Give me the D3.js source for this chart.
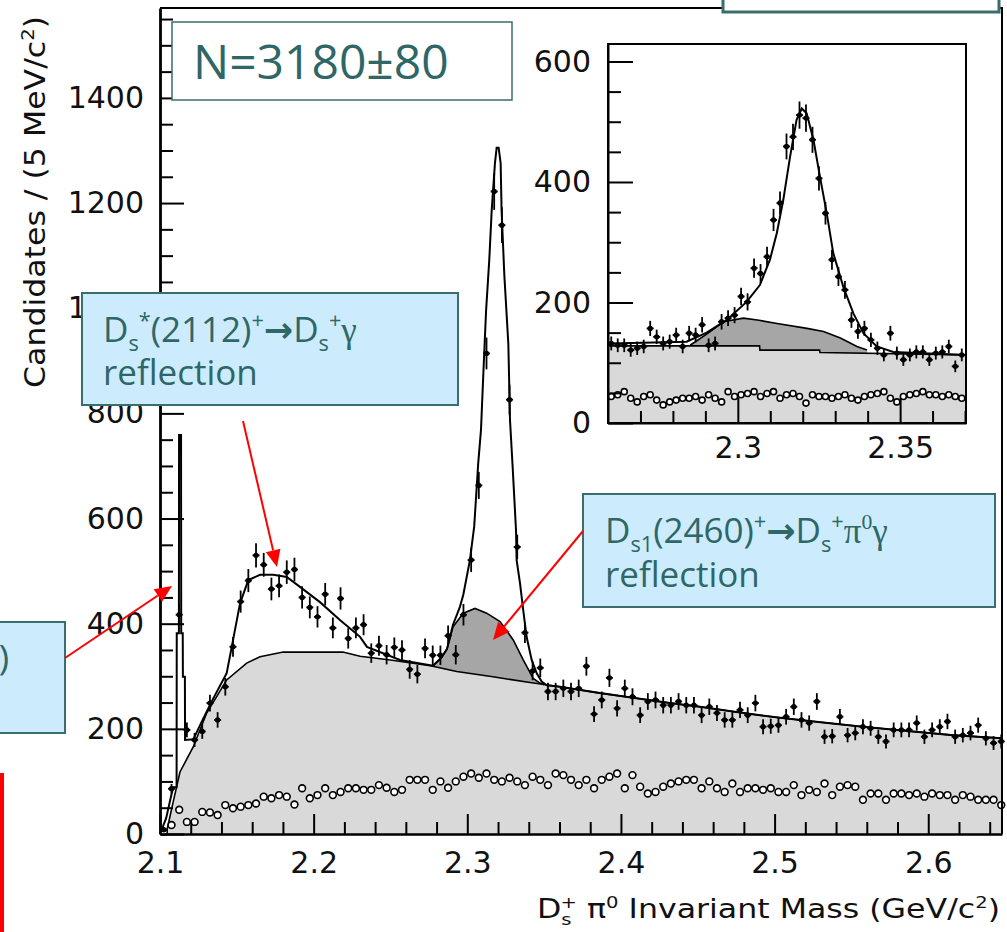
<!DOCTYPE html>
<html>
<head>
<meta charset="utf-8">
<script src="https://cdn.jsdelivr.net/npm/d3@7"></script>
<style>
  body { margin: 0; background: #fff; }
  svg { display: block; }
</style>
</head>
<body>
<div id="plot"></div>
<script>
// ---- main histogram: 5 MeV bins from 2.100 GeV ----
const binStart = 2.1, binWidth = 0.005;
const mainCounts = [8, 86, 417, 198, 179, 195, 249, 217, 280, 356,
  442, 482, 530, 512, 466, 472, 498, 503, 450, 431,
  413, 456, 392, 448, 372, 392, 398, 344, 358, 341,
  355, 350, 313, 304, 353, 340, 340, 377, 341, 417,
  521, 663, 914, 1222, 1158, 826, 546, 383, 310, 316,
  271, 271, 277, 271, 277, 319, 228, 255, 297, 239,
  277, 261, 226, 252, 255, 245, 245, 252, 245, 245,
  226, 242, 230, 217, 217, 236, 226, 249, 204, 205,
  207, 223, 242, 217, 211, 252, 185, 186, 223, 188,
  192, 204, 201, 185, 176, 198, 198, 198, 211, 185,
  198, 204, 214, 185, 188, 192, 207, 182, 173, 176];
const mainSideband = [4, 17, 46, 23, 23, 42, 41, 36, 55, 49,
  52, 55, 58, 71, 68, 74, 71, 56, 87, 68,
  74, 87, 74, 80, 87, 87, 84, 84, 93, 88,
  80, 84, 103, 103, 103, 84, 100, 88, 100, 109,
  115, 107, 115, 103, 100, 107, 100, 93, 109, 103,
  93, 115, 112, 103, 93, 103, 87, 103, 109, 115,
  87, 112, 90, 77, 80, 90, 96, 100, 103, 103,
  87, 100, 87, 80, 96, 80, 87, 87, 84, 87,
  80, 80, 93, 74, 84, 80, 96, 74, 90, 93,
  90, 65, 77, 77, 65, 77, 77, 74, 77, 71,
  77, 74, 74, 65, 74, 71, 65, 65, 65, 55];

// fit curves (mass in GeV, candidates per bin)
const fitMass = [2.1000, 2.1040, 2.1085, 2.1108, 2.1109, 2.1123, 2.1124, 2.1137, 2.1138, 2.1148,
  2.1149, 2.1162, 2.1163, 2.1217, 2.1282, 2.1347, 2.1434, 2.1467, 2.1521, 2.1575,
  2.1651, 2.1737, 2.1825, 2.1911, 2.2041, 2.2171, 2.2302, 2.2347, 2.2562, 2.2777,
  2.2830, 2.2868, 2.2907, 2.2952, 2.2974, 2.3017, 2.3045, 2.3071, 2.3089, 2.3104,
  2.3122, 2.3143, 2.3159, 2.3180, 2.3191, 2.3204, 2.3217, 2.3223, 2.3241, 2.3267,
  2.3278, 2.3295, 2.3317, 2.3321, 2.3343, 2.3364, 2.3386, 2.3419, 2.3451, 2.3484,
  2.3517, 2.3603, 2.3863, 2.4078, 2.4318, 2.4514, 2.4728, 2.4905, 2.5035, 2.5315,
  2.5575, 2.5900, 2.6161, 2.6480];
const fitTotal = [0, 30, 89, 89, 382, 382, 759, 759, 382, 382,
  299, 299, 179, 180, 220, 258, 306, 356, 439, 483,
  493, 493, 489, 470, 441, 407, 375, 356, 331, 320,
  335, 352, 398, 432, 455, 521, 585, 705, 768, 873,
  994, 1092, 1187, 1276, 1305, 1305, 1276, 1187, 1063, 933,
  787, 699, 578, 521, 477, 426, 375, 331, 306, 290,
  283, 280, 268, 259, 249, 242, 233, 226, 221, 212,
  204, 195, 188, 182];
const bgMass = [2.1040, 2.1085, 2.1130, 2.1217, 2.1304, 2.1434, 2.1564, 2.1651, 2.1802, 2.2190,
  2.2302, 2.2500, 2.2760, 2.2931, 2.3167, 2.3408, 2.3603, 2.3863, 2.4078, 2.4318,
  2.4514, 2.4728, 2.4905, 2.5035, 2.5315, 2.5575, 2.5900, 2.6161, 2.6480];
const bgLevel = [0, 60, 118, 166, 230, 293, 325, 337, 346, 346,
  338, 331, 320, 309, 299, 288, 280, 268, 259, 249,
  242, 233, 226, 221, 212, 204, 195, 188, 182];
const reflMass = [2.2777, 2.2830, 2.2868, 2.2907, 2.2974, 2.3050, 2.3126, 2.3213, 2.3299, 2.3364,
  2.3429, 2.3473, 2.3500];
const reflLevel = [320, 335, 352, 394, 420, 429, 420, 404, 369, 331, 296, 287, 284];

// ---- inset: 2 MeV bins from 2.260 GeV ----
const insetStart = 2.26, insetWidth = 0.002;
const insetCounts = [132, 129, 129, 121, 124, 127, 157, 143, 132, 135,
  146, 127, 149, 146, 163, 129, 132, 168, 174, 179,
  210, 201, 257, 248, 276, 337, 365, 459, 475, 511,
  506, 470, 406, 348, 271, 243, 221, 171, 152, 157,
  138, 124, 113, 149, 116, 105, 113, 118, 118, 105,
  116, 118, 127, 94, 113];
const insetSideband = [44, 47, 52, 41, 35, 44, 47, 38, 30, 35,
  38, 41, 41, 44, 38, 47, 41, 35, 52, 44,
  47, 49, 52, 44, 49, 52, 41, 47, 49, 44,
  33, 47, 44, 44, 41, 44, 47, 41, 38, 44,
  47, 49, 52, 41, 35, 44, 47, 49, 52, 47,
  47, 44, 47, 44, 41];
const insetFitMass = [2.2606, 2.2842, 2.2904, 2.2966, 2.3027, 2.3068, 2.3099, 2.3120, 2.3140, 2.3161,
  2.3181, 2.3197, 2.3212, 2.3233, 2.3253, 2.3274, 2.3294, 2.3325, 2.3356, 2.3387,
  2.3428, 2.3479, 2.3703];
const insetFitTotal = [132, 135, 150, 171, 201, 229, 271, 315, 370, 442,
  503, 522, 514, 470, 409, 348, 282, 226, 182, 149,
  127, 118, 113];
const insetBgMass = [2.2600, 2.3067, 2.3068, 2.3252, 2.3253, 2.3703];
const insetBgLevel = [128, 128, 121, 121, 117, 113];
const insetReflMass = [2.2853, 2.2905, 2.2956, 2.3017, 2.3060, 2.3121, 2.3213, 2.3264, 2.3316, 2.3367, 2.3398];
const insetReflLevel = [129, 148, 168, 174, 171, 165, 157, 152, 141, 127, 121];

// ticks
const xMajor = [2.1, 2.2, 2.3, 2.4, 2.5, 2.6];
const yMajor = [0, 200, 400, 600, 800, 1000, 1200, 1400];
const ixMajor = [2.3, 2.35];
const iyMajor = [0, 200, 400, 600];

const W = 1007, H = 932;
const teal = "#3a6e6e", tealText = "#2f6666", boxBlue = "#ccecfd";
const lightGray = "#d9d9d9", darkGray = "#a6a6a6";
const tickFont = "DejaVu Sans, sans-serif";
const noteFont = "Open Sans, sans-serif";
const serif = "Liberation Serif, serif";

const svg = d3.select("#plot").append("svg")
  .attr("width", W).attr("height", H)
  .attr("viewBox", [0, 0, W, H]);
svg.append("rect").attr("width", W).attr("height", H).attr("fill", "#fff");

const x = d3.scaleLinear([2.1, 2.648], [160, 1002]);
const y = d3.scaleLinear([0, 1571], [834, 8]);

const zip = (a, b) => a.map((m, i) => [m, b[i]]);

function drawPanel(g, xs, ys, o) {
  // reflection first, background drawn over it
  g.append("path")
    .datum(zip(o.reflMass, o.reflLevel))
    .attr("fill", darkGray)
    .attr("d", d3.area().x(d => xs(d[0])).y0(ys(0)).y1(d => ys(d[1])));
  g.append("path")
    .datum(zip(o.bgMass, o.bgLevel))
    .attr("fill", lightGray)
    .attr("d", d3.area().x(d => xs(d[0])).y0(ys(0)).y1(d => ys(d[1])));
  const line = d3.line().x(d => xs(d[0])).y(d => ys(d[1]));
  g.append("path").datum(zip(o.reflMass, o.reflLevel))
    .attr("fill", "none").attr("stroke", "#000").attr("stroke-width", 1.6).attr("d", line);
  g.append("path").datum(zip(o.bgMass, o.bgLevel))
    .attr("fill", "none").attr("stroke", "#000").attr("stroke-width", 1.6).attr("d", line);
  g.append("path").datum(zip(o.fitMass, o.fitTotal))
    .attr("fill", "none").attr("stroke", "#000").attr("stroke-width", 2).attr("d", line);

  // sideband markers
  g.append("g").selectAll("circle")
    .data(o.sideband)
    .join("circle")
    .attr("cx", (d, i) => xs(o.start + o.width * (i + 0.5)))
    .attr("cy", d => ys(d))
    .attr("r", o.r)
    .attr("fill", "#fff")
    .attr("stroke", "#000")
    .attr("stroke-width", 1.6);

  // data with Poisson errors
  const pts = g.append("g").attr("stroke", "#000").attr("stroke-width", 1.8);
  o.counts.forEach((c, i) => {
    const cx = xs(o.start + o.width * (i + 0.5));
    const e = Math.sqrt(c);
    pts.append("line").attr("x1", cx).attr("x2", cx)
      .attr("y1", ys(c + e)).attr("y2", ys(Math.max(c - e, 0)));
    pts.append("line").attr("x1", cx - 3.5).attr("x2", cx + 3.5)
      .attr("y1", ys(c)).attr("y2", ys(c));
    pts.append("circle").attr("cx", cx).attr("cy", ys(c)).attr("r", 1.8).attr("fill", "#000");
  });
}

function styleAxis(g, width) {
  g.select(".domain").attr("stroke-width", width);
  g.selectAll(".tick line").attr("stroke-width", 2);
  g.selectAll("text").attr("font-family", tickFont).attr("font-size", 30).attr("fill", "#111");
}

// ---- main panel ----
const main = svg.append("g");
drawPanel(main, x, y, {
  reflMass, reflLevel, bgMass, bgLevel, fitMass, fitTotal,
  counts: mainCounts, sideband: mainSideband, start: binStart, width: binWidth, r: 3.4
});

const xMinor = d3.range(2.12, 2.648, 0.02).filter(v => Math.abs(v * 10 - Math.round(v * 10)) > 1e-6);
const yMinor = d3.range(50, 1571, 50).filter(v => v % 200 !== 0);

main.append("g").attr("transform", "translate(0,834)")
  .call(d3.axisBottom(x).tickValues(xMinor).tickSize(-12).tickFormat(""))
  .call(g => g.select(".domain").remove())
  .call(g => g.selectAll("line").attr("stroke-width", 2));
main.append("g").attr("transform", "translate(160,0)")
  .call(d3.axisLeft(y).tickValues(yMinor).tickSize(-13).tickFormat(""))
  .call(g => g.select(".domain").remove())
  .call(g => g.selectAll("line").attr("stroke-width", 2));
main.append("g").attr("transform", "translate(0,834)")
  .call(d3.axisBottom(x).tickValues(xMajor).tickSizeInner(-20).tickSizeOuter(0).tickPadding(18).tickFormat(d3.format(".1f")))
  .call(g => styleAxis(g, 2.5));
main.append("g").attr("transform", "translate(160,0)")
  .call(d3.axisLeft(y).tickValues(yMajor).tickSizeInner(-24).tickSizeOuter(0).tickPadding(16).tickFormat(d3.format("d")))
  .call(g => styleAxis(g, 2.8));

// frame top and right
main.append("path")
  .attr("d", `M${x(2.1)},${y(1571)}H${x(2.648)}V${y(0)}`)
  .attr("fill", "none").attr("stroke", "#000").attr("stroke-width", 2);

// ---- inset ----
const xi = d3.scaleLinear([2.26, 2.3703], [608, 966]);
const yi = d3.scaleLinear([0, 629], [423, 44]);
const inset = svg.append("g");
inset.append("rect").attr("x", 608).attr("y", 44).attr("width", 358).attr("height", 379).attr("fill", "#fff");
drawPanel(inset, xi, yi, {
  reflMass: insetReflMass, reflLevel: insetReflLevel, bgMass: insetBgMass, bgLevel: insetBgLevel,
  fitMass: insetFitMass, fitTotal: insetFitTotal,
  counts: insetCounts, sideband: insetSideband, start: insetStart, width: insetWidth, r: 3
});
const ixMinor = d3.range(2.27, 2.37, 0.01).filter(v => Math.abs(v * 20 - Math.round(v * 20)) > 1e-6);
const iyMinor = d3.range(50, 629, 50).filter(v => v % 200 !== 0);
inset.append("g").attr("transform", "translate(0,423)")
  .call(d3.axisBottom(xi).tickValues(ixMinor).tickSize(-12).tickFormat(""))
  .call(g => g.select(".domain").remove())
  .call(g => g.selectAll("line").attr("stroke-width", 2));
inset.append("g").attr("transform", "translate(608,0)")
  .call(d3.axisLeft(yi).tickValues(iyMinor).tickSize(-13).tickFormat(""))
  .call(g => g.select(".domain").remove())
  .call(g => g.selectAll("line").attr("stroke-width", 2));
inset.append("g").attr("transform", "translate(0,423)")
  .call(d3.axisBottom(xi).tickValues(ixMajor).tickSizeInner(-25).tickSizeOuter(0).tickPadding(14).tickFormat(d => String(d)))
  .call(g => styleAxis(g, 2));
inset.append("g").attr("transform", "translate(608,0)")
  .call(d3.axisLeft(yi).tickValues(iyMajor).tickSizeInner(-25).tickSizeOuter(0).tickPadding(17).tickFormat(d3.format("d")))
  .call(g => styleAxis(g, 2));
inset.append("rect").attr("x", 608).attr("y", 44).attr("width", 358).attr("height", 379)
  .attr("fill", "none").attr("stroke", "#000").attr("stroke-width", 2);

// ---- titles ----
function rich(sel, px, py, parts, fs) {
  const t = sel.append("text").attr("x", px).attr("y", py).attr("font-size", fs);
  let off = 0;
  parts.forEach(p => {
    const target = p.sub ? fs * 0.26 : p.sup ? -fs * 0.4 : 0;
    const ts = t.append("tspan").attr("dy", target - off).text(p.t);
    if (p.sub || p.sup) ts.attr("font-size", fs * 0.62);
    if (p.font) ts.attr("font-family", p.font);
    if (p.bold) ts.attr("font-weight", "bold");
    if (p.dx) ts.attr("dx", p.dx);
    off = target;
  });
  return t;
}

rich(svg, 0, 0, [
  { t: "Candidates / (5 MeV/c" }, { t: "2", sup: true }, { t: ")" }
], 28)
  .attr("font-family", tickFont).attr("fill", "#111")
  .attr("transform", "translate(45,388) rotate(-90)")
  .attr("textLength", 372).attr("lengthAdjust", "spacingAndGlyphs");

rich(svg, 537, 918, [
  { t: "D" }, { t: "s", sub: true }, { t: "+", sup: true, dx: -9 }, { t: " \u03c0" }, { t: "0", sup: true },
  { t: " Invariant Mass (GeV/c" }, { t: "2", sup: true }, { t: ")" }
], 26)
  .attr("font-family", tickFont).attr("fill", "#111")
  .attr("textLength", 463).attr("lengthAdjust", "spacingAndGlyphs");

// ---- annotation boxes ----
const notes = svg.append("g").attr("font-family", noteFont).attr("fill", tealText);

// top-right box (cut by the page edge)
notes.append("rect").attr("x", 723).attr("y", -6).attr("width", 276).attr("height", 18)
  .attr("fill", "#fff").attr("stroke", teal).attr("stroke-width", 3);

// yield box
notes.append("rect").attr("x", 172).attr("y", 22).attr("width", 340).attr("height", 78)
  .attr("fill", "#fff").attr("stroke", teal).attr("stroke-width", 1.5);
notes.append("text").attr("x", 193).attr("y", 79).attr("font-size", 48).text("N=3180\u00b180");

// Ds*(2112) reflection box
notes.append("rect").attr("x", 82).attr("y", 293).attr("width", 376).attr("height", 112)
  .attr("fill", boxBlue).attr("stroke", teal).attr("stroke-width", 2);
const arrowGlyph = { t: "\u2192", bold: true, font: "DejaVu Sans, sans-serif" };
rich(notes, 103, 342, [
  { t: "D" }, { t: "s", sub: true }, { t: "*", sup: true }, { t: "(2112)" }, { t: "+", sup: true },
  arrowGlyph, { t: "D" }, { t: "s", sub: true }, { t: "+", sup: true }, { t: "\u03b3", font: serif }
], 35);
notes.append("text").attr("x", 103).attr("y", 385).attr("font-size", 35).text("reflection");

// Ds1(2460) reflection box
notes.append("rect").attr("x", 583).attr("y", 494).attr("width", 412).attr("height", 113)
  .attr("fill", boxBlue).attr("stroke", teal).attr("stroke-width", 2);
rich(notes, 605, 543, [
  { t: "D" }, { t: "s1", sub: true }, { t: "(2460)" }, { t: "+", sup: true },
  arrowGlyph, { t: "D" }, { t: "s", sub: true }, { t: "+", sup: true },
  { t: "\u03c0", font: serif }, { t: "0", sup: true, font: serif }, { t: "\u03b3", font: serif }
], 35);
notes.append("text").attr("x", 605).attr("y", 587).attr("font-size", 35).text("reflection");

// left box, mostly off the page
notes.append("rect").attr("x", -20).attr("y", 622).attr("width", 85).attr("height", 111)
  .attr("fill", boxBlue).attr("stroke", teal).attr("stroke-width", 2);
notes.append("text").attr("x", 9).attr("y", 670).attr("font-size", 35).attr("text-anchor", "end").text(")");

// red marker bar
svg.append("rect").attr("x", 0).attr("y", 773).attr("width", 4).attr("height", 159).attr("fill", "#ff0000");

// ---- red arrows ----
const arrows = [
  { from: [243, 421], to: [277, 567] },
  { from: [583, 531], to: [493, 640] },
  { from: [65, 658], to: [172, 586] }
];
const ag = svg.append("g");
arrows.forEach(a => {
  const [x0, y0] = a.from, [x1, y1] = a.to;
  const L = Math.hypot(x1 - x0, y1 - y0), ux = (x1 - x0) / L, uy = (y1 - y0) / L;
  const hl = 17, hw = 7.5;
  const bx = x1 - ux * hl, by = y1 - uy * hl;
  ag.append("line").attr("x1", x0).attr("y1", y0).attr("x2", bx).attr("y2", by)
    .attr("stroke", "#ff0000").attr("stroke-width", 2);
  ag.append("path")
    .attr("d", `M${x1},${y1}L${bx - uy * hw},${by + ux * hw}L${bx + uy * hw},${by - ux * hw}Z`)
    .attr("fill", "#ff0000");
});
</script>
</body>
</html>
